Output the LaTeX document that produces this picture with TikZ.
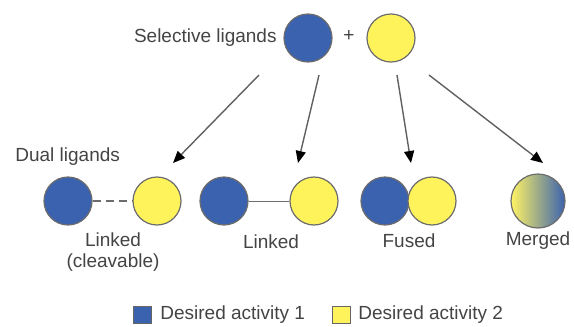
\documentclass[tikz,border=0pt]{standalone}
\usepackage{fontspec}
\setmainfont{Liberation Sans}
\usetikzlibrary{arrows.meta}
\definecolor{actblue}{HTML}{3B62AE}
\definecolor{actyellow}{HTML}{FFF35C}
\definecolor{txtgray}{HTML}{444444}
\tikzset{
  lig/.style={circle, draw=gray!85!black, line width=0.6pt, minimum size=24pt, inner sep=0pt},
  ligb/.style={lig, fill=actblue},
  ligy/.style={lig, fill=actyellow},
  lbl/.style={text=txtgray, font=\fontsize{9.5}{10.5}\selectfont, align=center, inner sep=0pt},
  arr/.style={draw=gray!75!black, line width=0.7pt, -{Triangle[length=6pt,width=5pt,color=black]}},
  keybox/.style={draw=gray!80!black, line width=0.5pt, minimum width=9pt, minimum height=8.5pt, inner sep=0pt}
}

\begin{document}
\begin{tikzpicture} [x=0.5pt, y=-0.5pt]
        \useasboundingbox (0,0) rectangle (574,327);
        % selective ligands
        \node[lbl, anchor=east] (sel) at (277,38) {Selective ligands};
        \node[ligb] (selB) at (308,38) {};
        \node[lbl] (plus) at (349,36) {+};
        \node[ligy] (selY) at (391,38) {};
        % dual ligands
        \node[lbl, anchor=west] (dual) at (15,157) {Dual ligands};
        \node[ligb] (cleB) at (68,201) {};
        \node[ligy] (cleY) at (157,201) {};
        \node[ligb] (linB) at (224,201) {};
        \node[ligy] (linY) at (314,201) {};
        \node[ligb] (fusB) at (385,201) {};
        \node[ligy] (fusY) at (432,201) {};
        \node[lig, minimum size=27pt, left color=actyellow!95!white, right color=actblue] (mrg) at (538,201) {};
        \draw[gray!85!black, line width=0.8pt, dash pattern=on 4pt off 2.5pt] (cleB) -- (cleY);
        \draw[gray!85!black, line width=0.5pt] (linB) -- (linY);
        \node[lbl] (cleT) at (113,252) {Linked\\(cleavable)};
        \node[lbl] (linT) at (271,242) {Linked};
        \node[lbl] (fusT) at (409,241) {Fused};
        \node[lbl] (mrgT) at (538,241) {Merged};
        % arrows
        \coordinate (s1) at (259,75); \coordinate (e1) at (173,163);
        \coordinate (s2) at (319,75); \coordinate (e2) at (298,163);
        \coordinate (s3) at (397,75); \coordinate (e3) at (411,163);
        \coordinate (s4) at (429,75); \coordinate (e4) at (543,163);
        \draw[arr] (s1) -- (e1);
        \draw[arr] (s2) -- (e2);
        \draw[arr] (s3) -- (e3);
        \draw[arr] (s4) -- (e4);
        % key
        \node[keybox, fill=actblue] (key1) at (142,315) {};
        \node[lbl, anchor=west] (key1T) at (160,315) {Desired activity 1};
        \node[keybox, fill=actyellow] (key2) at (341,315) {};
        \node[lbl, anchor=west] (key2T) at (358,315) {Desired activity 2};
    \end{tikzpicture}
\end{document}
